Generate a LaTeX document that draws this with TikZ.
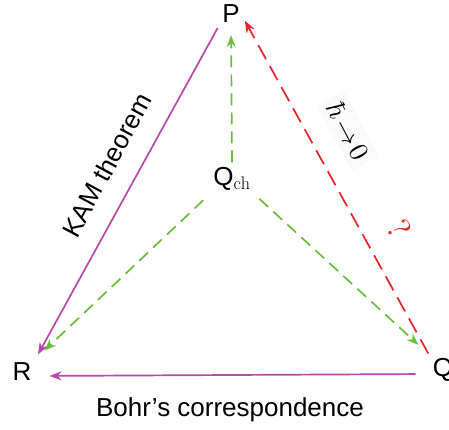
\documentclass[tikz,border=0pt]{standalone}
\usepackage{amsmath,amssymb}
\usepackage{fontspec}
\setsansfont{Liberation Sans}
\usepackage{tikz}
\usetikzlibrary{arrows.meta, positioning, calc}
\definecolor{cMagenta}{RGB}{185,70,170}
\definecolor{cRed}{RGB}{232,35,40}
\definecolor{cGreen}{RGB}{105,190,60}
\tikzset{
  vertex/.style={inner sep=4pt, font=\fontsize{26}{30}\sffamily},
  lbl/.style={inner sep=2pt, font=\fontsize{26}{30}\sffamily},
  magarrow/.style={-{Stealth[length=12pt,width=9pt,inset=4pt]}, line width=1.7pt, color=cMagenta},
  redarrow/.style={-{Stealth[length=12pt,width=9pt,inset=4pt]}, line width=1.7pt, color=cRed,
                   dash pattern=on 16pt off 8pt},
  greenarrow/.style={-{Stealth[length=12pt,width=9pt,inset=4pt]}, line width=1.7pt, color=cGreen,
                     dash pattern=on 12pt off 7pt}
}
\begin{document}
\begin{tikzpicture}[x=1pt, y=1pt]
  \useasboundingbox (0,0) rectangle (449,430);

  % Vertices
  \node[vertex] (P) at (231,416) {P};
  \node[vertex] (R) at (22,58) {R};
  \node[vertex] (Q) at (443,60) {Q};
  \node[vertex] (Qch) at (232,251) {Q$_{\mathrm{ch}}$};

  % Labels
  \node[lbl, rotate=61.7] (kam) at (107,265) {KAM theorem};
  \node[inner sep=6pt, fill=black!2, rotate=-62] (hbar)
      at (348,299) {\scalebox{2.7}{$\hbar\!\to\!0$}};
  \node[inner sep=1pt, rotate=-62, text=cRed] (qm)
      at (399,201) {\scalebox{3.3}{?}};
  \node[lbl] (bohr) at (230,20) {Bohr’s correspondence};

  % Arrows
  \draw[magarrow, shorten <=1pt, shorten >=5pt] (P.south west) -- (R.north east);
  \draw[magarrow, shorten <=13pt, shorten >=14pt] ([yshift=-4pt]Q.west) -- ([yshift=-4pt]R.east);
  \draw[redarrow, shorten <=1pt, shorten >=2pt] (Q.north west) -- ([yshift=-5pt]P.east);
  \draw[greenarrow, shorten <=1pt, shorten >=8pt] (Qch.north) -- (P.south);
  \draw[greenarrow, shorten <=8pt, shorten >=12pt] (Qch.south west) -- (R.north east);
  \draw[greenarrow, shorten <=6pt, shorten >=14pt] (Qch.south east) -- (Q.north west);

\end{tikzpicture}
\end{document}
